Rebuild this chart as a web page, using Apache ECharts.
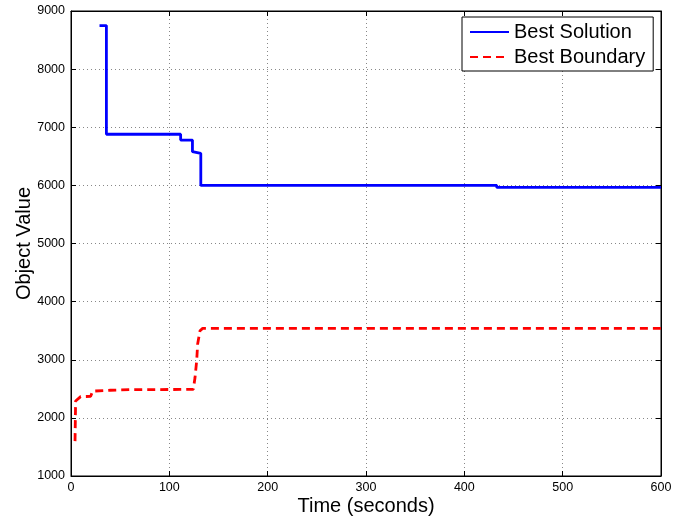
<!DOCTYPE html>
<html>
<head>
<meta charset="utf-8">
<script src="https://cdn.jsdelivr.net/npm/echarts@6/dist/echarts.min.js"></script>
<style>
html,body{margin:0;padding:0;background:#fff;}
#chart{width:689px;height:516px;}
</style>
</head>
<body>
<div id="chart"></div>
<script>
// Data
var solutionTimes = [29, 36, 111.5, 123.5, 125.5, 132, 433, 600];
var solutionValues = [8750, 6880, 6780, 6580, 6550, 6000, 5965, 5965];
var boundaryTimes = [4.1, 4.7, 9.8, 20, 22, 40, 60, 124.4, 126.1, 127.8, 128.8, 131.2, 133.9, 600];
var boundaryValues = [1600, 2290, 2365, 2370, 2460, 2475, 2485, 2490, 2690, 2980, 3270, 3500, 3540, 3540];
var xTicks = [0, 600, 100];
var yTicks = [1000, 9000, 1000];
var seriesNames = ['Best Solution', 'Best Boundary'];
var xTitle = 'Time (seconds)';
var yTitle = 'Object Value';

function pairs(xs, ys) { return xs.map(function (x, i) { return [x, ys[i]]; }); }
function plain(v) { return String(v); }

var FONT = '"Liberation Sans", Arial, Helvetica, sans-serif';
var chart = echarts.init(document.getElementById('chart'), null, {renderer: 'canvas'});

var gridLine = {show: true, lineStyle: {color: '#888', type: [1, 3], width: 1}};
var axisLine = {show: true, onZero: false, lineStyle: {color: '#000', width: 1}};
var tick = {show: true, inside: true, length: 5, lineStyle: {color: '#000'}};

chart.setOption({
  animation: false,
  backgroundColor: '#fff',
  grid: {left: 71, right: 28, top: 11, bottom: 40, outerBoundsMode: 'none', containLabel: false,
    show: true, borderColor: '#000', borderWidth: 1, backgroundColor: 'transparent'},
  legend: {
    left: 462, top: 17, orient: 'vertical',
    backgroundColor: '#fff', borderColor: '#000', borderWidth: 1,
    padding: [5, 8, 4, 7], itemGap: 5, itemWidth: 39, itemHeight: 14,
    itemStyle: {opacity: 0},
    textStyle: {fontFamily: FONT, fontSize: 20, color: '#000'},
    data: seriesNames
  },
  xAxis: [{
    type: 'value', min: xTicks[0], max: xTicks[1], interval: xTicks[2],
    name: xTitle, nameLocation: 'middle', nameGap: 20, nameMoveOverlap: false,
    nameTextStyle: {fontFamily: FONT, fontSize: 20, color: '#000'},
    axisLine: axisLine, axisTick: tick, splitLine: gridLine,
    axisLabel: {fontFamily: FONT, fontSize: 12.5, color: '#000', margin: 5, formatter: plain}
  }, {
    type: 'value', position: 'top', min: xTicks[0], max: xTicks[1], interval: xTicks[2],
    axisLine: axisLine, axisTick: tick, splitLine: {show: false}, axisLabel: {show: false}
  }],
  yAxis: [{
    type: 'value', min: yTicks[0], max: yTicks[1], interval: yTicks[2],
    name: yTitle, nameLocation: 'middle', nameGap: 37, nameMoveOverlap: false,
    nameTextStyle: {fontFamily: FONT, fontSize: 20, color: '#000'},
    axisLine: axisLine, axisTick: tick, splitLine: gridLine,
    axisLabel: {fontFamily: FONT, fontSize: 12.5, color: '#000', margin: 6, formatter: plain}
  }, {
    type: 'value', position: 'right', min: yTicks[0], max: yTicks[1], interval: yTicks[2],
    axisLine: axisLine, axisTick: tick, splitLine: {show: false}, axisLabel: {show: false}
  }],
  series: [{
    name: seriesNames[0], type: 'line', step: 'end', symbol: 'none',
    xAxisIndex: 0, yAxisIndex: 0,
    data: pairs(solutionTimes, solutionValues),
    lineStyle: {color: '#0000ff', width: 2.8},
    itemStyle: {color: '#0000ff'}
  }, {
    name: seriesNames[1], type: 'line', symbol: 'none',
    xAxisIndex: 0, yAxisIndex: 0,
    data: pairs(boundaryTimes, boundaryValues),
    lineStyle: {color: '#ff0000', width: 2.8, type: [8, 5]},
    itemStyle: {color: '#ff0000'}
  }]
});
</script>
</body>
</html>
